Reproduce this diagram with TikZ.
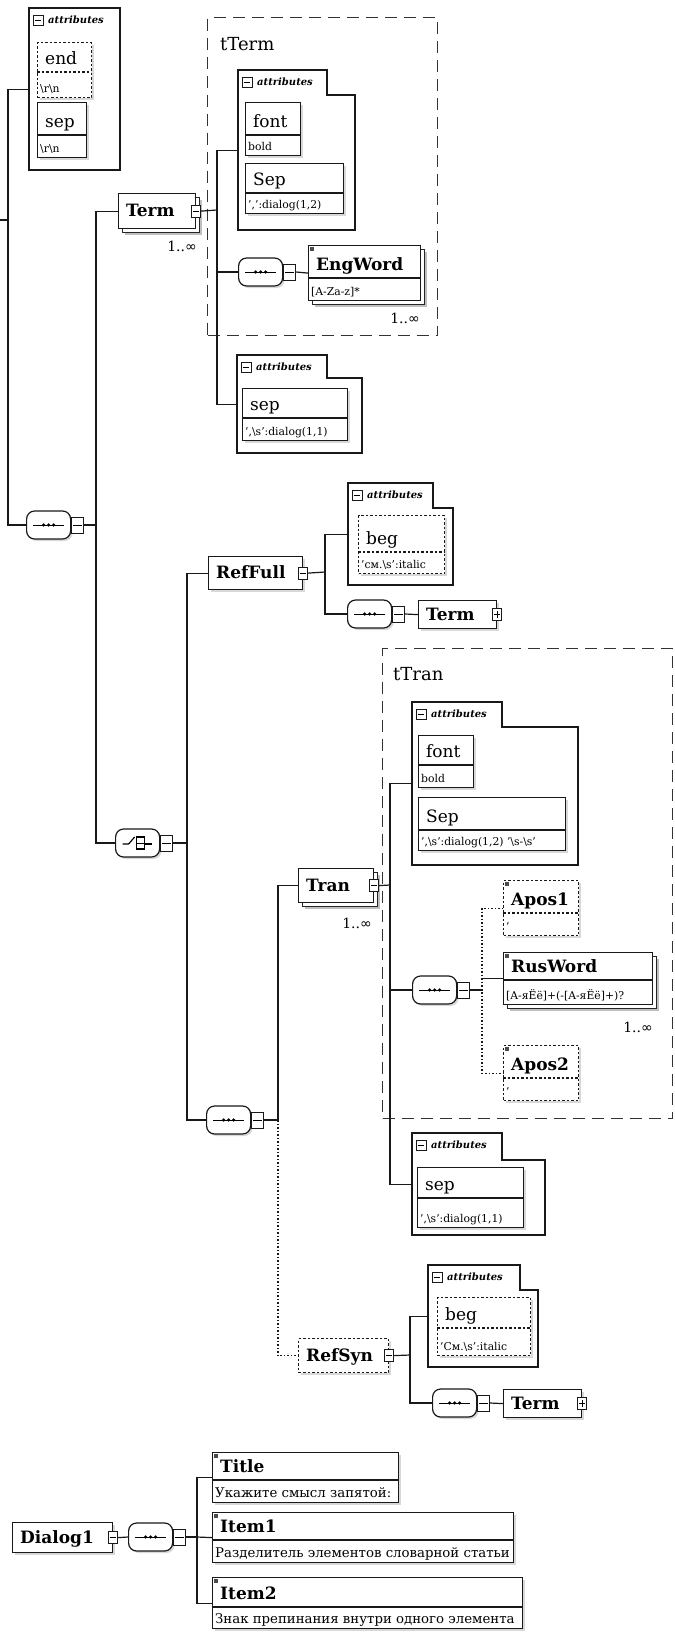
\documentclass[tikz,border=0pt]{standalone}
\usepackage{fontspec}
\setmainfont{DejaVu Serif}
\newfontfamily\symf{DejaVu Sans}
\usetikzlibrary{calc,shadows}
\tikzset{
 ln/.style={draw=black!90,line width=1.2pt},
 shd/.style={drop shadow={shadow xshift=2pt,shadow yshift=-2pt,opacity=.3}},
 elb/.style={ln,fill=white,inner sep=0pt,shd},
 elb-div/.style={ln},
 mult/.style={ln,fill=white,inner sep=0pt,
   general shadow={shadow xshift=6pt,shadow yshift=-6pt,fill=black,opacity=.25},
   general shadow={shadow xshift=4pt,shadow yshift=-4pt,draw=black!85,fill=white,line width=1.1pt}},
 mult-div/.style={ln},
 opb/.style={ln,dash pattern=on 2.5pt off 2pt,fill=white,inner sep=0pt,shd},
 opb-div/.style={ln,dash pattern=on 2.5pt off 2pt},
 atb/.style={elb}, atb-div/.style={ln},
 atopb/.style={opb}, atopb-div/.style={opb-div},
 grp/.style={draw=black!80,line width=1pt,dash pattern=on 12pt off 7pt,inner sep=0pt},
 nm/.style={inner sep=0pt,font=\fontsize{17}{20}\selectfont},
 vl/.style={inner sep=0pt,font=\fontsize{10.8}{12}\selectfont},
 hdr/.style={inner sep=0pt,font=\fontsize{10}{11}\selectfont\bfseries\itshape},
 occ/.style={inner sep=0pt,font=\fontsize{14}{16}\selectfont},
 lbl/.style={inner sep=0pt,font=\fontsize{18}{20}\selectfont},
 ic/.style={draw=black!90,line width=.9pt,fill=white,minimum width=9pt,minimum height=12pt,inner sep=0pt},
 btn/.style={draw=black!90,line width=1pt,fill=white,minimum width=12pt,minimum height=16pt,inner sep=0pt},
 comp/.style={ln,fill=white,rounded corners=8pt,minimum width=44pt,minimum height=28pt,inner sep=0pt,shd},
 con/.style={ln},
 dcon/.style={ln,dash pattern=on 1.5pt off 2pt},
}
% two-row box: name, style, x1, y1, x2, y2, ydiv, title, value
\newcommand\twobox[9]{%
  \node[#2,anchor=north west,minimum width={#5-#3},minimum height={#6-#4}] (#1) at (#3,#4) {};
  \draw[#2-div] (#3,#7) -- (#5,#7);
  \node[nm,anchor=base west] (#1-n) at ({#3+8},{#7-8}) {#8};
  \node[vl,anchor=base west] (#1-v) at ({#3+3},{#6-5}) {#9};}
% one-row element: name, style, x1, y1, x2, y2, text
\newcommand\onebox[7]{%
  \node[#2,anchor=north west,minimum width={#5-#3},minimum height={#6-#4}] (#1) at (#3,#4) {};
  \node[nm,anchor=base west] (#1-n) at ({#3+8},{(#4+#6)/2+6}) {\bfseries #7};}
% attributes group: name, x1, y1, xtab, ytab, x2, y2
\newcommand\attrbox[7]{%
  \node[anchor=north west,minimum width={#6-#2},minimum height={#7-#3},inner sep=0pt] (#1) at (#2,#3) {};
  \draw[ln,fill=white] (#2,#3) -- (#4,#3) -- (#4,#5) -- (#6,#5) -- (#6,#7) -- (#2,#7) -- cycle;
  \node[ic,minimum width=10pt,minimum height=10pt] (#1-i) at ({#2+9},{#3+12}) {};
  \draw[line width=.9pt] ($(#1-i.west)+(2,0)$) -- ($(#1-i.east)+(-2,0)$);
  \node[hdr,anchor=west] (#1-h) at ({#2+19},{#3+12}) {attributes};}
% minus / plus icon on the east border of an element
\newcommand\icm[2]{%
  \node[ic] (#2) at (#1.east) {};
  \draw[line width=.9pt] ($(#2.west)+(2,0)$) -- ($(#2.east)+(-2,0)$);}
\newcommand\icp[2]{%
  \node[ic] (#2) at (#1.east) {};
  \draw[line width=.9pt] ($(#2.west)+(2,0)$) -- ($(#2.east)+(-2,0)$);
  \draw[line width=.9pt] ($(#2.north)+(0,3)$) -- ($(#2.south)+(0,-3)$);}
% sequence compositor: name, x1, yc
\newcommand\seqc[3]{%
  \node[comp,anchor=west] (#1) at (#2,#3) {};
  \draw[line width=1pt] ($(#1.west)+(7,0)$) -- ($(#1.east)+(-7,0)$);
  \foreach \d in {-5,0,5} \fill ($(#1.center)+(\d,0)$) circle (1.8pt);
  \node[btn,anchor=west] (#1b) at (#1.east) {};
  \draw[line width=.9pt] ($(#1b.west)+(2,0)$) -- ($(#1b.east)+(-2,0)$);}
% choice compositor
\newcommand\chc[3]{%
  \node[comp,anchor=west] (#1) at (#2,#3) {};
  \draw[line width=1.2pt] ($(#1.center)+(-15,1)$) -- ($(#1.center)+(-9,1)$) -- ($(#1.center)+(-3,-6)$);
  \draw[line width=1.2pt] ($(#1.center)+(-1,-6)$) rectangle ($(#1.center)+(7,6)$);
  \draw[line width=1pt] ($(#1.center)+(-1,0)$) -- ($(#1.center)+(7,0)$);
  \draw[line width=1.2pt] ($(#1.center)+(7,1)$) -- ($(#1.center)+(14,1)$);
  \node[btn,anchor=west] (#1b) at (#1.east) {};
  \draw[line width=.9pt] ($(#1b.west)+(2,0)$) -- ($(#1b.east)+(-2,0)$);}
\newcommand\tlmark[1]{\fill[black!70] ($(#1.north west)+(1.5,1.5)$) rectangle ++(4,4);}
\begin{document}
\begin{tikzpicture}[x=1pt,y=-1pt]
\fill[white] (0,0) rectangle (675,1634);
\useasboundingbox (0,0) rectangle (675,1634);

% ---------- group boxes ----------
\node[grp,anchor=north west,minimum width=230,minimum height=318] (tTerm) at (207,17) {};
\node[lbl,anchor=base west] (tTerm-l) at (220,50) {tTerm};
\node[grp,anchor=north west,minimum width=290,minimum height=470] (tTran) at (382,648) {};
\node[lbl,anchor=base west] (tTran-l) at (393,680) {tTran};

% ---------- root attributes ----------
\attrbox{attrA}{29}{8}{120}{33}{120}{170}
\twobox{endA}{atopb}{37}{42}{91}{97}{72}{end}{\textbackslash r\textbackslash n}
\twobox{sepA}{atb}{37}{102}{86}{157}{135}{sep}{\textbackslash r\textbackslash n}
\seqc{seq1}{26}{525}

% ---------- Term ----------
\onebox{Term}{mult}{118}{193}{195}{228}{Term}
\icm{Term}{TermI}
\node[occ,anchor=base east] (Term-o) at (197,251) {1..{\symf ∞}};
\attrbox{attrT}{238}{70}{327}{95}{355}{230}
\twobox{fontT}{atb}{245}{102}{300}{155}{135}{font}{bold}
\twobox{SepT}{atb}{245}{163}{343}{213}{193}{Sep}{',':dialog(1,2)}
\seqc{seqT}{238}{272}
\twobox{EngWord}{mult}{308}{245}{420}{300}{278}{\bfseries EngWord}{[A-Za-z]*}
\tlmark{EngWord}
\node[occ,anchor=base east] (EngWord-o) at (420,323) {1..{\symf ∞}};
\attrbox{attrT2}{237}{355}{327}{378}{362}{453}
\twobox{sepT2}{atb}{242}{388}{347}{440}{418}{sep}{',\textbackslash s':dialog(1,1)}

% ---------- choice ----------
\chc{choice}{115}{843}
\onebox{RefFull}{elb}{208}{556}{302}{589}{RefFull}
\icm{RefFull}{RefFullI}
\attrbox{attrRF}{348}{483}{433}{508}{453}{585}
\twobox{begRF}{atopb}{358}{515}{444}{573}{552}{beg}{'см.\textbackslash s':italic}
\seqc{seqRF}{347}{614}
\onebox{TermRF}{elb}{418}{600}{496}{628}{Term}
\icp{TermRF}{TermRFI}

\seqc{seqL}{206}{1120}
\onebox{Tran}{mult}{298}{868}{373}{902}{Tran}
\icm{Tran}{TranI}
\node[occ,anchor=base east] (Tran-o) at (372,928) {1..{\symf ∞}};
\attrbox{attrTr}{412}{702}{502}{727}{578}{865}
\twobox{fontTr}{atb}{418}{735}{473}{787}{765}{font}{bold}
\twobox{SepTr}{atb}{418}{797}{565}{850}{830}{Sep}{',\textbackslash s':dialog(1,2) '\textbackslash s-\textbackslash s'}
\seqc{seqTr}{412}{990}
\twobox{Apos1}{opb}{503}{880}{578}{935}{913}{\bfseries Apos1}{'}
\tlmark{Apos1}
\twobox{RusWord}{mult}{503}{952}{652}{1004}{980}{\bfseries RusWord}{[A-яЁё]+(-[A-яЁё]+)?}
\tlmark{RusWord}
\node[occ,anchor=base east] (RusWord-o) at (653,1032) {1..{\symf ∞}};
\twobox{Apos2}{opb}{503}{1045}{578}{1100}{1078}{\bfseries Apos2}{'}
\tlmark{Apos2}
\attrbox{attrTr2}{412}{1133}{502}{1160}{545}{1235}
\twobox{sepTr2}{atb}{417}{1167}{523}{1227}{1198}{sep}{',\textbackslash s':dialog(1,1)}

\onebox{RefSyn}{opb}{298}{1338}{388}{1372}{RefSyn}
\icm{RefSyn}{RefSynI}
\attrbox{attrRS}{428}{1265}{520}{1290}{538}{1367}
\twobox{begRS}{atopb}{437}{1297}{530}{1355}{1328}{beg}{'См.\textbackslash s':italic}
\seqc{seqRS}{432}{1403}
\onebox{TermRS}{elb}{503}{1389}{581}{1417}{Term}
\icp{TermRS}{TermRSI}

% ---------- Dialog1 ----------
\onebox{Dialog1}{elb}{12}{1522}{112}{1552}{Dialog1}
\icm{Dialog1}{Dialog1I}
\seqc{seqD}{128}{1537}
\twobox{Title}{elb}{212}{1452}{398}{1502}{1480}{\bfseries Title}{\fontsize{13.3}{15}\selectfont Укажите смысл запятой:}
\tlmark{Title}
\twobox{Item1}{elb}{212}{1512}{513}{1562}{1540}{\bfseries Item1}{\fontsize{13.3}{15}\selectfont Разделитель элементов словарной статьи}
\tlmark{Item1}
\twobox{Item2}{elb}{212}{1577}{522}{1628}{1607}{\bfseries Item2}{\fontsize{13.3}{15}\selectfont Знак препинания внутри одного элемента}
\tlmark{Item2}

% ---------- connectors ----------
\coordinate (r0) at (0,220);
\coordinate (rb) at (8,220);
\coordinate (b1) at (96,525);
\coordinate (t1) at (217,210);
\coordinate (b2) at (187,843);
\coordinate (b3) at (325,572);
\coordinate (b4) at (278,1120);
\coordinate (b5) at (390,885);
\coordinate (b6) at (482,990);
\coordinate (b7) at (410,1355);
\coordinate (b8) at (197,1537);

\draw[con] (r0) -- (rb);
\draw[con] (attrA.west) -| (rb) |- (seq1.west);
\draw[con] (seq1b.east) -- (b1);
\draw[con] (Term.west) -| (b1) |- (choice.west);
\draw[con] (TermI.east) -- (t1);
\draw[con] (attrT.west) -| (t1) |- (attrT2.west);
\draw[con] (t1 |- seqT.west) -- (seqT.west);
\draw[con] (seqTb.east) -- (EngWord.west);
\draw[con] (choiceb.east) -- (b2);
\draw[con] (RefFull.west) -| (b2) |- (seqL.west);
\draw[con] (RefFullI.east) -- (b3);
\draw[con] (attrRF.west) -| (b3) |- (seqRF.west);
\draw[con] (seqRFb.east) -- (TermRF.west);
\draw[con] (seqLb.east) -- (b4);
\draw[con] (Tran.west) -| (b4);
\draw[dcon] (b4) |- (RefSyn.west);
\draw[con] (TranI.east) -- (b5);
\draw[con] (attrTr.west) -| (b5) |- (attrTr2.west);
\draw[con] (b5 |- seqTr.west) -- (seqTr.west);
\draw[con] (seqTrb.east) -- (b6);
\draw[dcon] (Apos1.west) -| (b6) |- (Apos2.west);
\draw[con] (b6 |- RusWord.west) -- (RusWord.west);
\draw[con] (RefSynI.east) -- (b7);
\draw[con] (attrRS.west) -| (b7) |- (seqRS.west);
\draw[con] (seqRSb.east) -- (TermRS.west);
\draw[con] (Dialog1I.east) -- (seqD.west);
\draw[con] (seqDb.east) -- (b8);
\draw[con] (Title.west) -| (b8) |- (Item2.west);
\draw[con] (b8) -- (Item1.west);
\end{tikzpicture}
\end{document}
